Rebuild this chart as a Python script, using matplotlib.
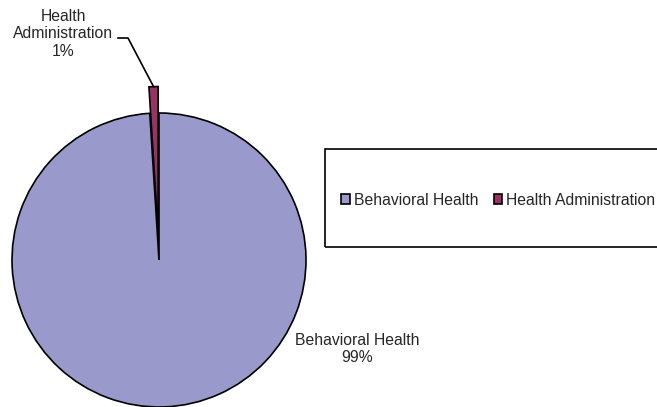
import numpy as np
import matplotlib.pyplot as plt
from matplotlib.patches import Rectangle

labels = ['Behavioral Health', 'Health Administration']
values = [99, 1]
colors = ['#9999cc', '#993366']
pull = [0, 0.18]  # fraction of radius

W, H = 657, 407
plt.rcParams['font.family'] = ['Liberation Sans', 'DejaVu Sans']
txt_color = '#262626'
fs = 11.3

fig = plt.figure(figsize=(W / 100, H / 100), dpi=100)
ax = fig.add_axes([0, 0, 1, 1])

cx, cy, r = 159, H - 260, 147
# pie() takes explode in absolute units, so scale by the radius
wedges, _ = ax.pie(values, colors=colors, explode=[p * r for p in pull],
                   startangle=90, counterclock=False, center=(cx, cy), radius=r,
                   wedgeprops=dict(edgecolor='black', linewidth=1.2))
ax.set_xlim(0, W)
ax.set_ylim(0, H)
ax.set_aspect('equal')
ax.axis('off')

total = sum(values)
pcts = [f'{v / total * 100:.0f}%' for v in values]

# big slice label, lower right of the pie
ax.text(357, H - 349, f'{labels[0]}\n{pcts[0]}', ha='center', va='center',
        fontsize=fs, color=txt_color, linespacing=1.1)

# small slice label with leader line to the outer tip of the wedge
w = wedges[1]
mid = np.deg2rad((w.theta1 + w.theta2) / 2)
tip_r = r * (1 + pull[1])
tx, ty = cx + tip_r * np.cos(mid), cy + tip_r * np.sin(mid)
ax.text(63, H - 34, f'Health\n{labels[1].split()[1]}\n{pcts[1]}', ha='center',
        va='center', fontsize=fs, color=txt_color, linespacing=1.2)
ax.plot([118, 128, tx], [H - 38, H - 38, ty], color='black', lw=1.2)

# legend box running off the right edge
fig.patches.append(Rectangle((325 / W, 1 - 247 / H), 340 / W, 98 / H,
                             transform=fig.transFigure, fill=False,
                             edgecolor='black', linewidth=1.2))
fig.legend(wedges, labels, loc='center left', bbox_to_anchor=(341 / W, 1 - 200 / H),
           ncol=2, frameon=False, fontsize=fs, handlelength=0.55, handleheight=0.55,
           handletextpad=0.25, columnspacing=1.0, labelcolor=txt_color,
           borderpad=0, borderaxespad=0)

fig.savefig('out.png', dpi=100)
